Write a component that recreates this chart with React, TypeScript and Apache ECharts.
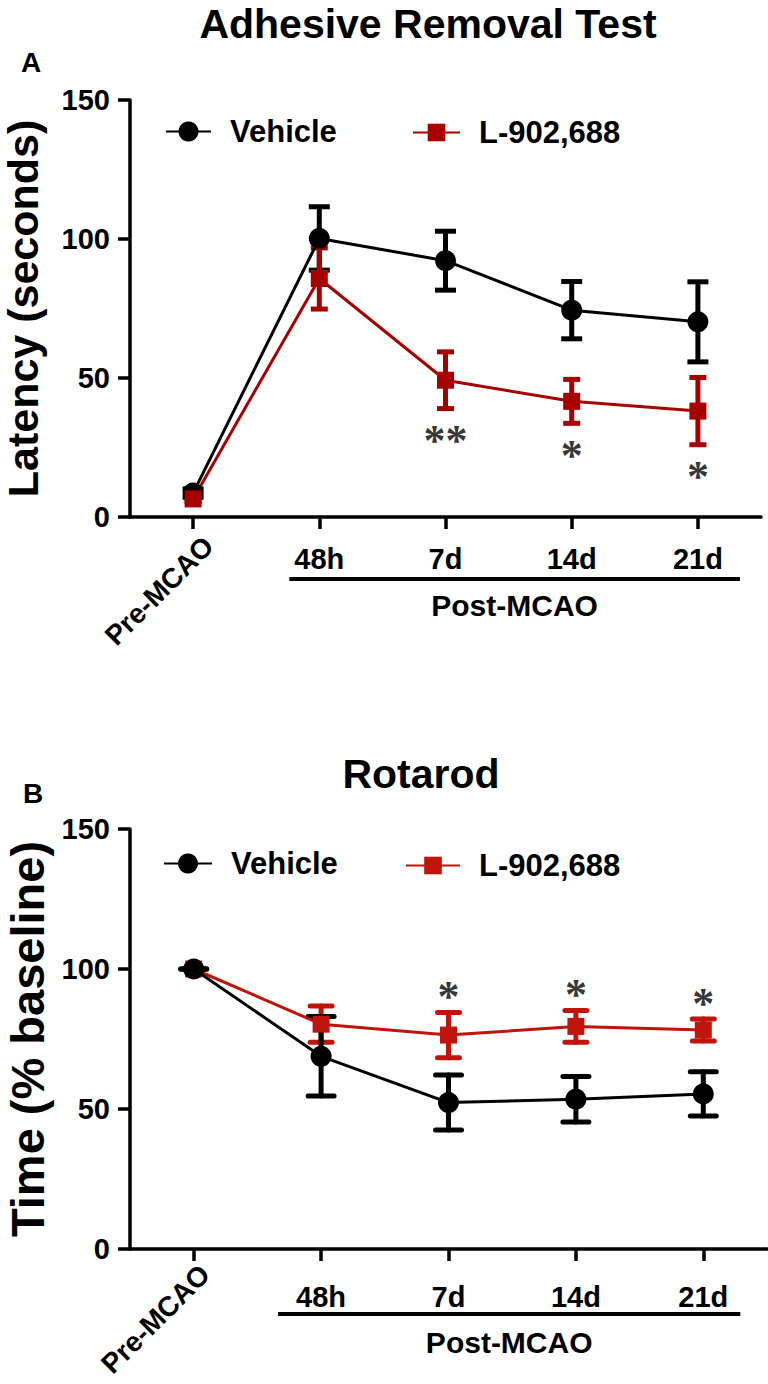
import React, { useEffect, useRef } from 'react';
import * as echarts from 'echarts';

const categories = ['Pre-MCAO', '48h', '7d', '14d', '21d'];

// Panel A — Adhesive Removal Test (latency, seconds)
const adhesiveVehicle = [8.6, 100.2, 92.2, 74.4, 70.2];
const adhesiveVehicleSem = [1.5, 11.4, 10.6, 10.3, 14.4];
const adhesiveDrug = [6.5, 85.8, 49.2, 41.6, 38.1];
const adhesiveDrugSem = [1.0, 11.0, 10.2, 7.9, 12.1];
const adhesiveSig = ['', '', '**', '*', '*'];

// Panel B — Rotarod (% baseline)
const rotarodVehicle = [100, 68.8, 52.3, 53.5, 55.4];
const rotarodVehicleSem = [0, 14.2, 9.8, 8.1, 7.9];
const rotarodDrug = [100, 80.3, 76.4, 79.5, 78.2];
const rotarodDrugSem = [0, 6.5, 8.1, 5.7, 3.9];
const rotarodSig = ['', '', '*', '*', '*'];

const seriesNames = ['Vehicle', 'L-902,688'];
const yMin = 0;
const yMax = 150;
const yStep = 50;

const FONT = '"Liberation Sans", Arial, Helvetica, sans-serif';
const BLACK = '#000000';
const RED_A = '#a80000';
const RED_B = '#c0150c';

function errorBars(name: string, means: number[], sems: number[], color: string, grid: number, capW: number, round: boolean) {
  return {
    type: 'custom',
    name,
    xAxisIndex: grid * 2,
    yAxisIndex: grid,
    silent: true,
    data: means.map((m, i) => [i, m - sems[i], m + sems[i]]),
    renderItem: (params: any, api: any) => {
      const lo = api.coord([api.value(0), api.value(1)]);
      const hi = api.coord([api.value(0), api.value(2)]);
      const style = { stroke: color, lineWidth: 5, lineCap: round ? 'round' : 'butt' };
      return {
        type: 'group',
        children: [
          { type: 'line', shape: { x1: lo[0], y1: lo[1], x2: hi[0], y2: hi[1] }, style },
          { type: 'line', shape: { x1: lo[0] - capW / 2, y1: lo[1], x2: lo[0] + capW / 2, y2: lo[1] }, style },
          { type: 'line', shape: { x1: hi[0] - capW / 2, y1: hi[1], x2: hi[0] + capW / 2, y2: hi[1] }, style },
        ],
      };
    },
  };
}

function lineSeries(name: string, values: number[], color: string, grid: number, symbol: string, size: number) {
  return {
    type: 'line',
    name,
    xAxisIndex: grid * 2,
    yAxisIndex: grid,
    data: values,
    symbol,
    symbolSize: size,
    showAllSymbol: true,
    itemStyle: { color },
    lineStyle: { color, width: 3 },
    silent: true,
  };
}

function sigSeries(sig: string[], means: number[], sems: number[], grid: number, below: boolean, distance: number) {
  return {
    type: 'scatter',
    name: 'sig' + grid,
    xAxisIndex: grid * 2,
    yAxisIndex: grid,
    symbolSize: 0,
    silent: true,
    data: sig.map((s, i) => (s ? [i, below ? means[i] - sems[i] : means[i] + sems[i], s] : [i, '-', ''])),
    label: {
      show: true,
      position: below ? 'bottom' : 'top',
      distance,
      formatter: (p: any) => p.value[2],
      fontFamily: '"Liberation Serif", "Times New Roman", serif',
      fontWeight: 'bold',
      fontSize: 44,
      color: BLACK,
    },
  };
}

function xAxes(grid: number, rotMargin: number, rotShift: number, margin: number) {
  const labelBase = { fontFamily: FONT, fontWeight: 'bold', fontSize: 29, color: BLACK, interval: 0 };
  return [
    {
      type: 'category',
      gridIndex: grid,
      data: categories,
      position: 'bottom',
      boundaryGap: true,
      axisLine: { show: true, lineStyle: { color: BLACK, width: 3.5 } },
      axisTick: { show: true, alignWithLabel: true, length: 12, lineStyle: { color: BLACK, width: 3.5 } },
      axisLabel: {
        ...labelBase,
        fontSize: 28,
        rotate: 45,
        margin: rotMargin,
        padding: [0, -rotShift, 0, 0],
        formatter: (v: string, i: number) => (i === 0 ? v : ''),
      },
      splitLine: { show: false },
    },
    {
      type: 'category',
      gridIndex: grid,
      data: categories,
      position: 'bottom',
      boundaryGap: true,
      axisLine: { show: false },
      axisTick: { show: false },
      axisLabel: { ...labelBase, margin, formatter: (v: string, i: number) => (i === 0 ? '' : v) },
      splitLine: { show: false },
    },
  ];
}

function yAxis(grid: number, name: string, nameGap: number, nameSize: number) {
  return {
    type: 'value',
    gridIndex: grid,
    min: yMin,
    max: yMax,
    interval: yStep,
    name,
    nameLocation: 'middle',
    nameGap,
    nameTextStyle: { fontFamily: FONT, fontWeight: 'bold', fontSize: nameSize, color: BLACK },
    axisLine: { show: true, lineStyle: { color: BLACK, width: 3.5 } },
    axisTick: { show: true, length: 12, lineStyle: { color: BLACK, width: 3.5 } },
    axisLabel: { fontFamily: FONT, fontWeight: 'bold', fontSize: 29, color: BLACK, margin: 20 },
    splitLine: { show: false },
  };
}

const legendText = { fontFamily: FONT, fontWeight: 'bold', fontSize: 31, color: BLACK, padding: [0, 0, 0, 14] };

export default function App() {
  const ref = useRef<HTMLDivElement>(null);
  useEffect(() => {
    if (!ref.current) return;
    const chart = echarts.init(ref.current, undefined, { renderer: 'svg' });
    const option: any = {
      animation: false,
      backgroundColor: '#ffffff',
      title: [
        { text: 'Adhesive Removal Test', left: 423, top: -2, textAlign: 'center', textStyle: { fontFamily: FONT, fontWeight: 'bold', fontSize: 41, color: BLACK } },
        { text: 'A', left: 16, top: 43, textStyle: { fontFamily: FONT, fontWeight: 'bold', fontSize: 28, color: BLACK } },
        { text: 'Rotarod', left: 416, top: 748, textAlign: 'center', textStyle: { fontFamily: FONT, fontWeight: 'bold', fontSize: 41, color: BLACK } },
        { text: 'B', left: 18, top: 774, textStyle: { fontFamily: FONT, fontWeight: 'bold', fontSize: 28, color: BLACK } },
      ],
      legend: [
        { data: [{ name: seriesNames[0] }], left: 160, top: 111, itemWidth: 45, itemHeight: 25, selectedMode: false, textStyle: legendText },
        { data: [{ name: seriesNames[1] }], left: 407, top: 112, itemWidth: 47, itemHeight: 22, selectedMode: false, textStyle: legendText },
        { data: [{ name: seriesNames[0] }], left: 158, top: 843, itemWidth: 48, itemHeight: 25, selectedMode: false, textStyle: legendText },
        {
          data: [{ name: seriesNames[1], itemStyle: { color: RED_B }, lineStyle: { color: RED_B } }],
          left: 400, top: 845, itemWidth: 54, itemHeight: 22, selectedMode: false, textStyle: legendText,
        },
      ],
      grid: [
        { left: 130, top: 100, width: 631, height: 417, containLabel: false, outerBoundsMode: 'none' },
        { left: 130, top: 829, width: 637, height: 420, containLabel: false, outerBoundsMode: 'none' },
      ],
      xAxis: [...xAxes(0, 40, 22, 27), ...xAxes(1, 32, 16, 33)],
      yAxis: [yAxis(0, 'Latency (seconds)', 86, 43), yAxis(1, 'Time (% baseline)', 79, 47)],
      series: [
        errorBars('Vehicle SEM A', adhesiveVehicle, adhesiveVehicleSem, BLACK, 0, 21, false),
        lineSeries(seriesNames[0], adhesiveVehicle, BLACK, 0, 'circle', 21),
        errorBars('Drug SEM A', adhesiveDrug, adhesiveDrugSem, RED_A, 0, 17, false),
        lineSeries(seriesNames[1], adhesiveDrug, RED_A, 0, 'rect', 17),
        sigSeries(adhesiveSig, adhesiveDrug, adhesiveDrugSem, 0, true, 10),
        errorBars('Drug SEM B', rotarodDrug, rotarodDrugSem, RED_B, 1, 22, true),
        lineSeries(seriesNames[1] + ' ', rotarodDrug, RED_B, 1, 'rect', 17),
        errorBars('Vehicle SEM B', rotarodVehicle, rotarodVehicleSem, BLACK, 1, 26, true),
        lineSeries(seriesNames[0] + ' ', rotarodVehicle, BLACK, 1, 'circle', 21),
        sigSeries(rotarodSig, rotarodDrug, rotarodDrugSem, 1, false, -6),
      ],
    };
    chart.setOption(option);

    const px = (g: number, i: number) => chart.convertToPixel({ gridIndex: g }, [i, 0]) as number[];
    const bracket = (g: number, leftPad: number, rightPad: number, lineDy: number, textDy: number) => {
      const a = px(g, 1);
      const b = px(g, 4);
      const x1 = a[0] - leftPad;
      const x2 = b[0] + rightPad;
      const y = a[1] + lineDy;
      return [
        { type: 'line', shape: { x1, y1: y, x2, y2: y }, style: { stroke: BLACK, lineWidth: 4 }, silent: true },
        {
          type: 'text', x: (x1 + x2) / 2, y: a[1] + textDy, silent: true,
          style: { text: 'Post-MCAO', fontFamily: FONT, fontWeight: 'bold', fontSize: 30, fill: BLACK, align: 'center', verticalAlign: 'middle' },
        },
      ];
    };
    chart.setOption({ graphic: [...bracket(0, 30, 42, 62, 88), ...bracket(1, 43, 37, 65, 93)] });
    return () => chart.dispose();
  }, []);
  return <div ref={ref} style={{ position: 'fixed', left: 0, top: 0, width: 768, height: 1384 }} />;
}
